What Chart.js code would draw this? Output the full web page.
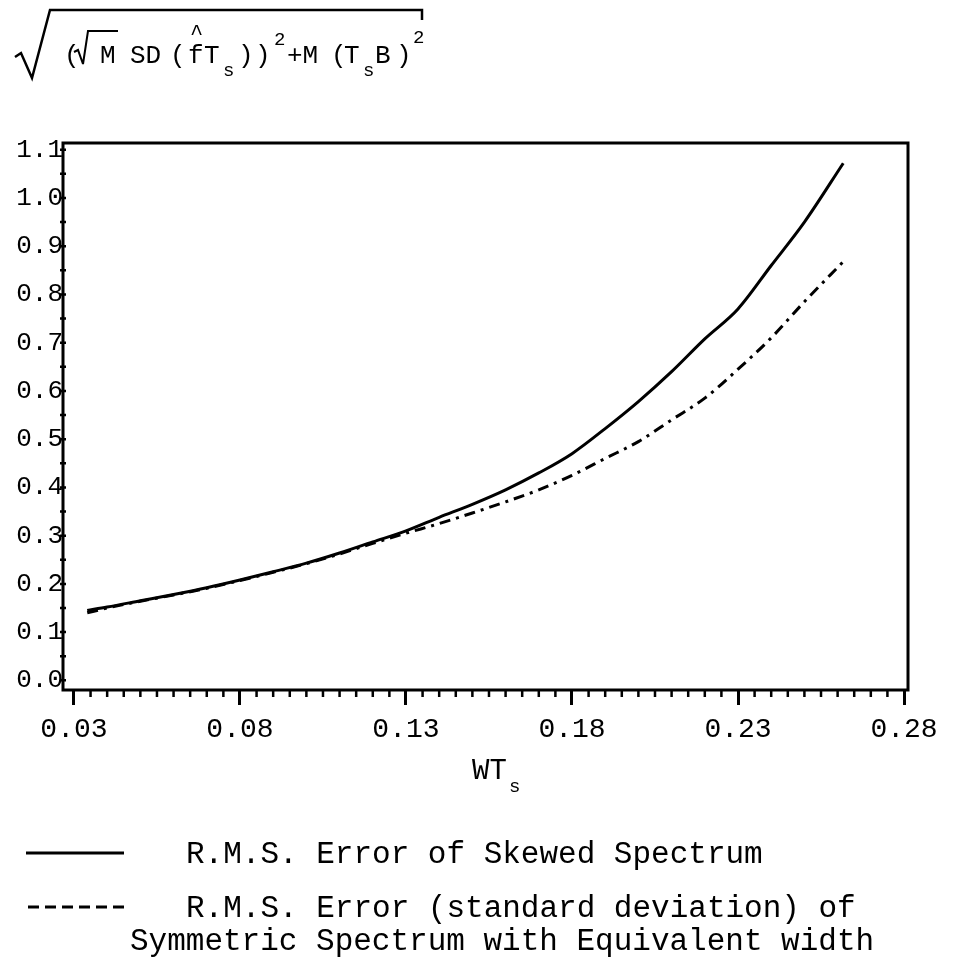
<!DOCTYPE html>
<html>
<head>
<meta charset="utf-8">
<script src="https://cdn.jsdelivr.net/npm/chart.js@4.4.0/dist/chart.umd.min.js"></script>
<style>
  html, body { margin: 0; padding: 0; background: #fff; }
  #wrap { position: relative; width: 953px; height: 980px; overflow: hidden; }
  #rmsChart { position: absolute; left: 0; top: 0; }
  svg { position: absolute; left: 0; top: 0; }
  text { font-family: "Liberation Mono", "DejaVu Sans Mono", monospace; fill: #000; }
</style>
</head>
<body>
<div id="wrap">
  <canvas id="rmsChart" width="953" height="980"></canvas>

  <!-- y axis quantity -->
  <svg width="953" height="110">
    <path d="M15,57 L21,53 L32,78 L50,10 L422,10 L422,20" fill="none" stroke="#000" stroke-width="2.5"/>
    <text x="64" y="63" font-size="26">(</text>
    <path d="M74,52 L78,50 L83,64 L88,31 L118,31" fill="none" stroke="#000" stroke-width="2"/>
    <text x="100" y="63" font-size="26">M</text>
    <text x="130" y="63" font-size="26">SD</text>
    <text x="170" y="63" font-size="26">(</text>
    <text x="188" y="63" font-size="26">f</text>
    <text x="190" y="40" font-size="22">^</text>
    <text x="204" y="63" font-size="26">T</text>
    <text x="223" y="76" font-size="19">s</text>
    <text x="238" y="63" font-size="26">)</text>
    <text x="255" y="63" font-size="26">)</text>
    <text x="274" y="45" font-size="19">2</text>
    <text x="287" y="63" font-size="26">+M</text>
    <text x="331" y="63" font-size="26">(</text>
    <text x="344" y="63" font-size="26">T</text>
    <text x="363" y="76" font-size="19">s</text>
    <text x="375" y="63" font-size="26">B</text>
    <text x="396" y="63" font-size="26">)</text>
    <text x="413" y="43" font-size="19">2</text>
  </svg>

  <!-- x axis title and key -->
  <svg width="953" height="980" style="pointer-events:none">
    <text x="472" y="779" font-size="29">WT</text>
    <text x="509" y="792" font-size="19">s</text>

    <line x1="26" y1="853" x2="124" y2="853" stroke="#000" stroke-width="3"/>
    <text x="186" y="863" font-size="31">R.M.S. Error of Skewed Spectrum</text>

    <line x1="28" y1="907" x2="124" y2="907" stroke="#000" stroke-width="3" stroke-dasharray="11,6"/>
    <text x="186" y="917" font-size="31">R.M.S. Error (standard deviation) of</text>
    <text x="130" y="950" font-size="31">Symmetric Spectrum with Equivalent width</text>
  </svg>
</div>

<script>
// normalised bandwidth WT_s
var wts = [0.034, 0.04, 0.05, 0.06, 0.07, 0.08, 0.09, 0.10, 0.11, 0.12, 0.13,
           0.14, 0.15, 0.16, 0.17, 0.18, 0.19, 0.20, 0.21, 0.22, 0.23, 0.24, 0.25, 0.2617];

// r.m.s. error, skewed spectrum
var rmsSkewed = [0.145, 0.152, 0.165, 0.178, 0.192, 0.208, 0.225, 0.243, 0.264, 0.287, 0.310,
                 0.338, 0.365, 0.395, 0.430, 0.470, 0.522, 0.578, 0.640, 0.708, 0.770, 0.860, 0.950, 1.072];

// r.m.s. error (standard deviation), symmetric spectrum of equivalent width
var rmsSymmetric = [0.140, 0.150, 0.164, 0.177, 0.191, 0.207, 0.224, 0.242, 0.262, 0.284, 0.305,
                    0.325, 0.347, 0.370, 0.395, 0.425, 0.460, 0.495, 0.540, 0.585, 0.645, 0.710, 0.785, 0.868];

var xTickValues = [0.03, 0.08, 0.13, 0.18, 0.23, 0.28];
var yTickValues = [0.0, 0.1, 0.2, 0.3, 0.4, 0.5, 0.6, 0.7, 0.8, 0.9, 1.0, 1.1];

var monoFont = '"Liberation Mono", "DejaVu Sans Mono", monospace';

function toPoints(xs, ys) {
    var pts = [];
    for (var i = 0; i < xs.length; i++) {
        pts.push({ x: xs[i], y: ys[i] });
    }
    return pts;
}

// box round the plot plus the small minor ticks on both axes
var frameAndMinorTicks = {
    id: 'frameAndMinorTicks',
    afterDraw: function(chart) {
        var ctx = chart.ctx;
        var area = chart.chartArea;
        var xs = chart.scales.x;
        var ys = chart.scales.y;
        ctx.save();
        ctx.strokeStyle = '#000';
        ctx.lineWidth = 3;
        ctx.strokeRect(area.left, area.top, area.right - area.left, area.bottom - area.top);

        ctx.lineWidth = 2.5;
        ctx.beginPath();
        for (var k = 0; k <= 50; k++) {
            if (k % 10 === 0) continue;
            var px = xs.getPixelForValue(0.03 + k * 0.005);
            ctx.moveTo(px, area.bottom);
            ctx.lineTo(px, area.bottom + 7);
        }
        for (var j = 0; j <= 22; j++) {
            var py = ys.getPixelForValue(j * 0.05);
            ctx.moveTo(area.left - 3, py);
            ctx.lineTo(area.left + 3, py);
        }
        ctx.stroke();
        ctx.restore();
    }
};

var rmsChart = new Chart(document.getElementById('rmsChart'), {
    type: 'line',
    data: {
        datasets: [{
            label: 'R.M.S. Error of Skewed Spectrum',
            data: toPoints(wts, rmsSkewed),
            borderColor: '#000',
            borderWidth: 3,
            pointRadius: 0,
            cubicInterpolationMode: 'monotone'
        }, {
            label: 'R.M.S. Error (standard deviation) of Symmetric Spectrum with Equivalent width',
            data: toPoints(wts, rmsSymmetric),
            borderColor: '#000',
            borderWidth: 3,
            borderDash: [11, 6, 3, 6],
            pointRadius: 0,
            cubicInterpolationMode: 'monotone'
        }]
    },
    options: {
        responsive: false,
        animation: false,
        devicePixelRatio: 1,
        layout: { padding: { left: 0, right: 45, top: 143, bottom: 230 } },
        plugins: {
            legend: { display: false },
            tooltip: { enabled: false }
        },
        scales: {
            x: {
                type: 'linear',
                min: 0.0267,
                max: 0.2812,
                border: { display: false },
                grid: { drawOnChartArea: false, tickLength: 15, tickWidth: 3, tickColor: '#000' },
                ticks: {
                    color: '#000',
                    font: { family: monoFont, size: 28 },
                    padding: 8,
                    maxRotation: 0,
                    autoSkip: false,
                    callback: function(v) { return v.toFixed(2); }
                },
                afterBuildTicks: function(scale) {
                    scale.ticks = xTickValues.map(function(v) { return { value: v }; });
                },
                afterFit: function(scale) { scale.height = 60; }
            },
            y: {
                type: 'linear',
                min: -0.02,
                max: 1.114,
                border: { display: false },
                grid: { display: false },
                ticks: {
                    color: '#000',
                    font: { family: monoFont, size: 26 },
                    padding: -8,
                    autoSkip: false,
                    callback: function(v) { return v.toFixed(1); }
                },
                afterBuildTicks: function(scale) {
                    scale.ticks = yTickValues.map(function(v) { return { value: v }; });
                },
                afterFit: function(scale) { scale.width = 63; }
            }
        }
    },
    plugins: [frameAndMinorTicks]
});
</script>
</body>
</html>
